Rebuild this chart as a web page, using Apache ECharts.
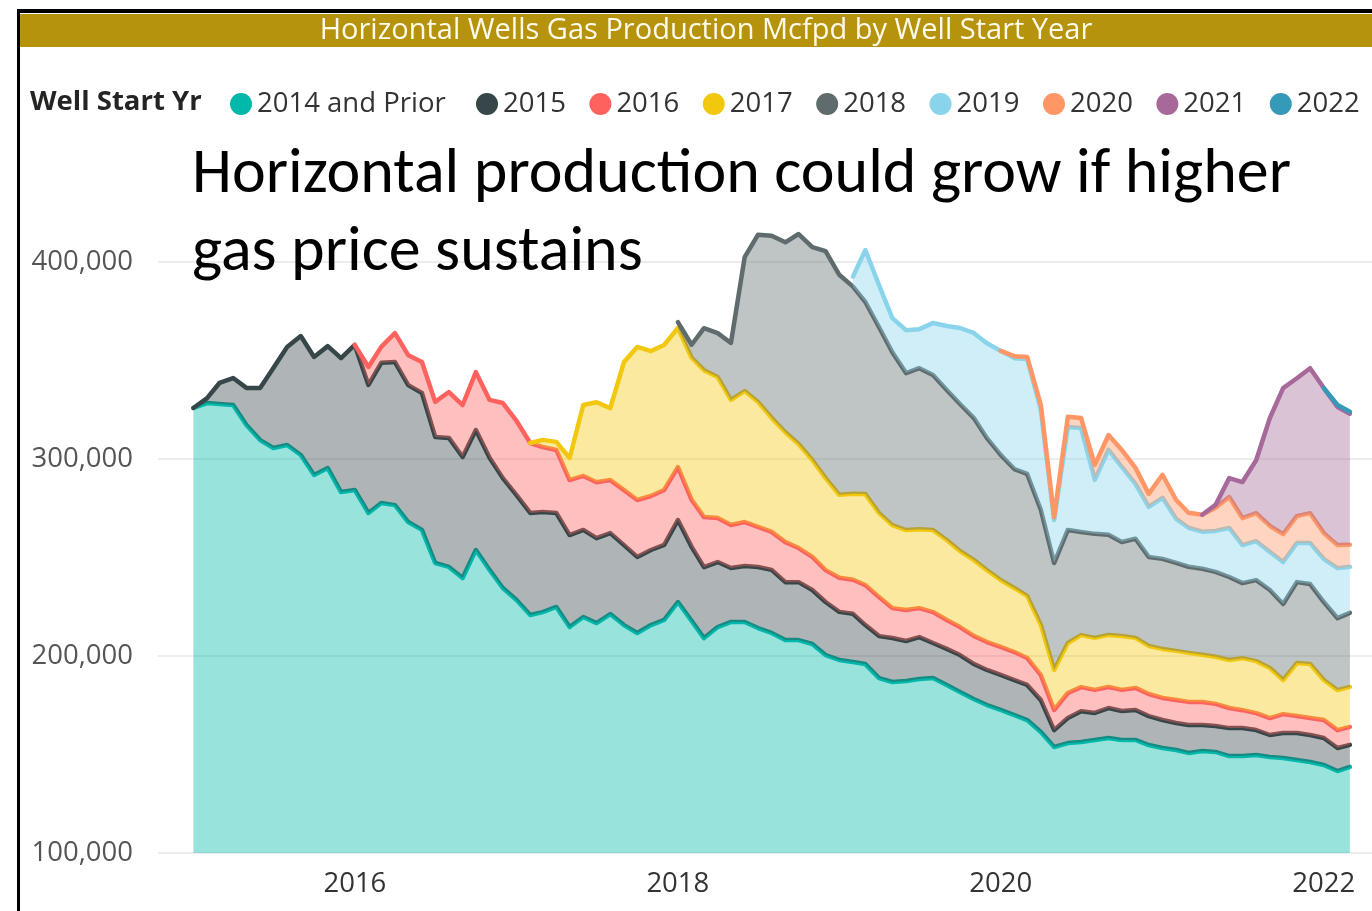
<!DOCTYPE html>
<html><head><meta charset="utf-8">
<script src="https://cdn.jsdelivr.net/npm/echarts@6/dist/echarts.min.js"></script>
<style>html,body{margin:0;padding:0;background:#fff}#c{width:1372px;height:911px}</style>
</head><body><div id="c"></div>
<script>
// ---- data (monthly, Jan 2015 .. Mar 2022) ----
const firstYear = 2015, firstMonthIdx = 0, monthCount = 87;
const seriesNames = ['2014 and Prior','2015','2016','2017','2018','2019','2020','2021','2022'];
const seriesStart = ['2015-01','2015-01','2016-01','2017-02','2018-01','2019-02','2020-01','2021-04','2022-01'];
const seriesColors = ['#01B8AA','#374649','#FD625E','#F2C80F','#5F6B6D','#8AD4EB','#FE9666','#A66999','#3599B8'];
const xTickYears = [2016, 2018, 2020, 2022];

const v2014 = [325900,328400,327900,327400,317300,309600,305600,307100,302000,291900,
  295400,283200,284300,272600,277700,276600,268000,264000,247200,245200,
  239600,253800,243700,234500,228400,220800,222300,224900,214700,219800,
  216700,221300,215700,211700,215700,218300,227400,217800,209100,214700,
  217300,217300,214200,211700,208100,208100,206100,200500,198000,197000,
  195900,188800,186800,187300,188300,188800,185300,181700,178200,175100,
  172600,170000,167500,161400,153800,155800,156300,157400,158400,157400,
  157400,154800,153300,152300,150800,151800,151300,149200,149200,149700,
  148700,148200,147200,146200,144700,141600,143700];
const v2015 = [0,2500,10700,13700,18800,26400,40600,49700,60400,59900,
  61900,68000,73600,65000,71100,72600,69500,69500,64000,65500,
  61400,60900,56900,55800,53300,51800,50800,47700,46700,44200,
  43100,41100,40600,38600,38100,38100,41600,37600,36000,33000,
  27400,28400,31000,32000,29400,29400,27400,26900,24400,24400,
  19800,21300,22300,20300,21300,17800,18300,18800,17800,17800,
  17800,17800,17800,16200,8600,12700,15700,13700,15200,14700,
  15200,14700,14200,13700,14200,13200,13200,14200,14200,12700,
  11200,12700,13700,13700,13700,11700,11200];
const v2016 = [0,9100,8100,14700,15200,15700,17800,23300,26400,29400,
  29400,38100,37600,35500,33000,32000,27900,27400,28400,26900,
  27900,28900,27400,27900,26900,23900,25400,22300,21800,22300,
  20300,19300,20300,17300,16800,16200,17300,17300,20300,19800,
  15200,15700,14700,15700,14700,14200,14200,14200,14200,14200,
  13700,12700,10200,12700,12200,11700,10700,10700,11200,11200,
  11200,11700,11700,11700,11200,10200,9100,8600,8600,9600,
  8600,8600,9100,9100,9100];
const v2017 = [0,3600,4100,11200,36000,40600,36500,65000,77700,73600,
  73600,70600,72100,74600,71600,63500,66500,63500,57900,55800,
  52800,49200,46700,42100,43700,46200,42600,42100,40600,40100,
  41600,40600,38600,38600,36500,34000,32500,31500,25400,20300,
  25400,26400,26400,26400,27400,25400,24400,24900,24900,24900,
  23900,23900,24400,26400,26400,25400,17300,26900,27400,20300,
  20300,20300];
const v2018 = [3000,6600,21300,22300,28900,68000,84800,92400,96400,106600,
  108100,115200,111700,105100,97500,94400,87800,79700,81700,78700,
  76100,74600,72100,67000,63500,60400,61900,58400,54300,57400,
  52300,52800,50800,47700,50300,45200,45700,44700,43700,43700,
  43100,42100,38100,41100,39600,38600,41100,40600,39600,36500,
  37600];
const v2019 = [5100,26400,21300,17300,21800,19800,26400,32500,38600,43100,
  48200,52800,56300,58400,50800,21800,52300,52800,27400,43100,
  38100,27900,25400,31000,22300,19800,18800,20800,24900,19300,
  19800,19300,21300,19800,20800,21800,25400,23400];
const v2020 = [0,1000,1000,2500,1500,5100,5100,7600,7600,8600,
  8100,6600,11700,9600,7600,8600,11700,15700,13700,14200,
  13200,14200,13700,15200,13200,11700,11200];
const v2021 = [0,1500,9600,18300,26900,54800,74100,70000,73600,73600,70100,66500];
const v2022 = [0,1000,1000];
const seriesValues = [v2014,v2015,v2016,v2017,v2018,v2019,v2020,v2021,v2022];

// ---- build ----
const FONT = "'Open Sans', 'Noto Sans', sans-serif";
const axisMin = new Date(2014, 9, 13), axisMax = new Date(2022, 3, 20);
function decYear(d){ const y = d.getFullYear(); const s = new Date(y,0,1), e = new Date(y+1,0,1); return y + (d - s) / (e - s); }
const months = [];
for (let i = 0; i < monthCount; i++) months.push(new Date(firstYear, firstMonthIdx + i, 1).getTime());
function startIndex(s){ const p = s.split('-'); return (+p[0]-firstYear)*12 + (+p[1]-1) - firstMonthIdx; }

const series = seriesNames.map((name, k) => {
  const st = startIndex(seriesStart[k]);
  const vals = seriesValues[k];
  return {
    name, type: 'line', stack: 'total', clip: false,
    symbol: 'none', showSymbol: false,
    data: months.map((t, i) => [t, (i >= st && i - st < vals.length) ? vals[i - st] : null]),
    lineStyle: { width: 4.5, color: seriesColors[k], join: 'round', cap: 'round' },
    itemStyle: { color: seriesColors[k] },
    areaStyle: { color: seriesColors[k], opacity: 0.4, origin: k === 0 ? 'start' : 'auto' },
    emphasis: { disabled: true },
    z: 2 + k
  };
});

const legendText = { fontFamily: FONT, fontSize: 27.5, color: '#333', lineHeight: 32 };
const option = {
  animation: false,
  color: seriesColors,
  grid: { left: 158, right: 0, top: 262, bottom: 58, containLabel: false },
  xAxis: [{
    type: 'time',
    min: axisMin.getTime(), max: axisMax.getTime(),
    axisLine: { show: false }, axisTick: { show: false }, splitLine: { show: false },
    axisLabel: { show: false }
  }, {
    // label-only axis in decimal years, same span as the time axis
    type: 'value', position: 'bottom',
    min: decYear(axisMin), max: decYear(axisMax),
    axisLine: { show: false }, axisTick: { show: false }, splitLine: { show: false },
    axisLabel: {
      customValues: xTickYears,
      formatter: v => String(Math.round(v)),
      fontFamily: FONT, fontSize: 27.5, color: '#333', margin: 17
    }
  }],
  yAxis: {
    type: 'value', min: 100000, max: 400000, interval: 100000,
    axisLine: { show: false }, axisTick: { show: false },
    axisLabel: { fontFamily: FONT, fontSize: 27.5, color: '#555', margin: 25 },
    splitLine: { lineStyle: { color: '#e6e6e6', width: 1.5 } }
  },
  legend: [
    { data: [seriesNames[0]], left: 225, top: 83, icon: 'circle', itemWidth: 22, itemHeight: 22,
      selectedMode: false, textStyle: legendText },
    { data: seriesNames.slice(1), left: 471, top: 83, icon: 'circle', itemWidth: 22, itemHeight: 22,
      itemGap: 23.5, selectedMode: false, textStyle: legendText }
  ],
  graphic: [
    { type: 'rect', shape: { x: 17, y: 9, width: 1355, height: 4 }, style: { fill: '#000' }, z: 100 },
    { type: 'rect', shape: { x: 17, y: 9, width: 3, height: 902 }, style: { fill: '#000' }, z: 100 },
    { type: 'rect', shape: { x: 20, y: 14, width: 1352, height: 33 }, style: { fill: '#B5930D' }, z: 99 },
    { type: 'text', x: 706, y: 31, z: 101,
      style: { text: 'Horizontal Wells Gas Production Mcfpd by Well Start Year', fill: '#FFFAEA',
        font: "29px 'Open Sans', sans-serif", align: 'center', verticalAlign: 'middle' } },
    { type: 'text', x: 30, y: 102, z: 101,
      style: { text: 'Well Start Yr', fill: '#252423',
        font: "bold 27.5px 'Open Sans', sans-serif", align: 'left', verticalAlign: 'middle' } },
    { type: 'text', x: 192, y: 176, z: 101,
      style: { text: 'Horizontal production could grow if higher', fill: '#000',
        font: "64px Carlito, Calibri, Lato, sans-serif", align: 'left', verticalAlign: 'middle' } },
    { type: 'text', x: 192, y: 254, z: 101,
      style: { text: 'gas price sustains', fill: '#000',
        font: "64px Carlito, Calibri, Lato, sans-serif", align: 'left', verticalAlign: 'middle' } }
  ],
  series
};
const chart = echarts.init(document.getElementById('c'), null, { renderer: 'canvas' });
chart.setOption(option);
</script></body></html>
